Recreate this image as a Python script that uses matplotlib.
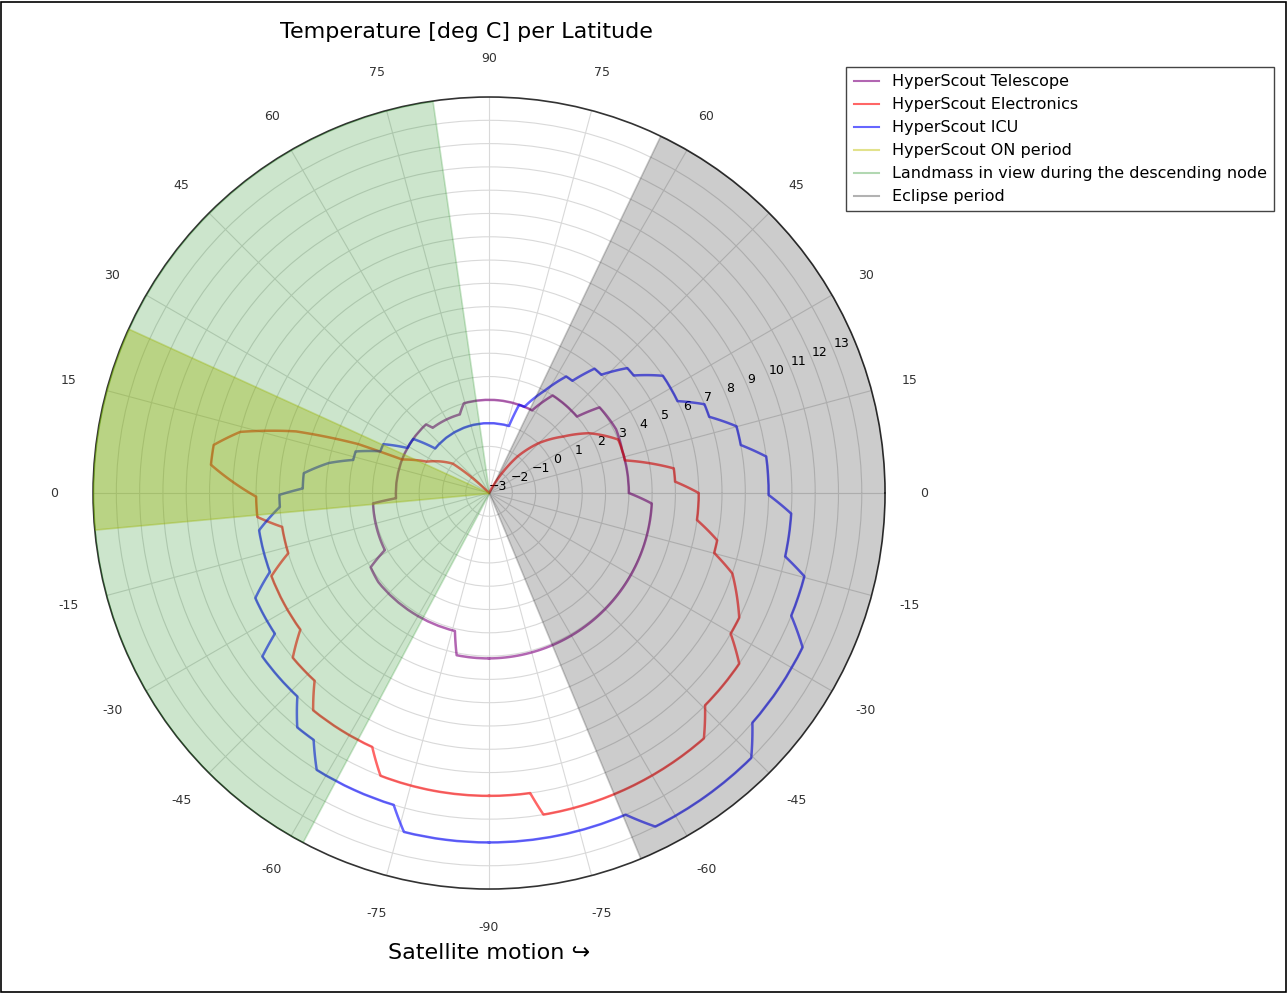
import numpy as np
import matplotlib
matplotlib.use('Agg')
import matplotlib.pyplot as plt
from matplotlib.lines import Line2D
from matplotlib.patches import Rectangle

# orbit position in degrees (0 = equator going north, 90 = north pole,
# 180 = equator going south, 270 = south pole) and temperature in deg C
telescope_angle = [-90, -3.7, 0, 17.7, 26.6, 37.8, 41.0, 56.9, 62.5, 105.7, 110.4, 130.8,
                   132.6, 183.2, 185.1, 208.7, 212.1, 218.8, 256.1, 258.7, 270]
telescope_temp = [4.1, 4.0, 3.0, 3.0, 3.1, 3.0, 2.0, 2.0, 1.0, 1.0, 0.6, 0.7,
                  1.0, 1.0, 2.0, 2.1, 3.0, 3.1, 3.1, 4.1, 4.1]

electronics_angle = [-90, -82.2, -80.4, -48.8, -44.5, -34.3, -30.2, -26.5, -18.3, -14.9,
                     -11.7, -7.4, 0, 3.5, 7.6, 13.5, 22.5, 30.9, 37.3, 45.3,
                     52, 57, 62, 135, 138, 141, 153.3, 158.9, 159.5, 162.3,
                     166.2, 170.1, 174.2, 180.9, 185.9, 189.3, 196.7, 200.9, 215.9, 220.0,
                     227.1, 231.0, 245.3, 249.0, 270]
electronics_temp = [10, 10, 11, 11, 10, 10, 9, 9, 8, 7,
                    7, 6, 6, 5, 5, 3, 3, 2, 1, 0,
                    -1, -2, -3, -3, -2, -1, 0, 1, 3, 5.7,
                    8, 9, 9, 7, 7, 6, 6, 7, 7, 8,
                    8, 9, 9, 10, 10]

icu_angle = [-90, -67, -63.5, -45.3, -41.1, -26.2, -22.1, -14.8, -12.1, -3.9,
             -0.4, 7.5, 10.8, 15.1, 19.1, 22.4, 26.0, 34.0, 39.1, 42.1,
             46.5, 49.7, 53.4, 56.5, 61.5, 67.7, 71.2, 73.5, 140.4, 144.5,
             151.1, 155.2, 159.0, 162.7, 166.3, 169.4, 173.9, 178.6, 180.5, 183.8,
             189.2, 199.8, 204.2, 213.3, 215.8, 226.7, 230.7, 234.6, 238.1, 253.0,
             255.9, 270]
icu_temp = [12, 12, 13, 13, 12, 12, 11, 11, 10, 10,
            9, 9, 8, 8, 7, 7, 6, 6, 5, 5,
            4, 4, 3, 3, 2, 1, 1, 0, 0, 1,
            1, 2, 2, 3, 3, 4, 5, 5, 6, 6,
            7, 7, 8, 8, 9, 9, 10, 10, 11, 11,
            12, 12]

# orbit segments (start, end) in degrees
on_span = (155.5, 185.3)
landmass_span = (98.2, 241.9)
eclipse_span = (-67.5, 64.4)

theta_ticks = np.arange(0, 360, 15)
lat_labels = [0, 15, 30, 45, 60, 75, 90, 75, 60, 45, 30, 15,
              0, -15, -30, -45, -60, -75, -90, -75, -60, -45, -30, -15]
r_ticks = np.arange(-3, 14)
r_min, r_max = -3, 14

fig = plt.figure(figsize=(12.87, 9.93), dpi=100)
ax = fig.add_axes([0.0723, 0.1047, 0.6154, 0.7976], projection='polar')

series = [
    (telescope_angle, telescope_temp, 'purple', 'HyperScout Telescope'),
    (electronics_angle, electronics_temp, 'red', 'HyperScout Electronics'),
    (icu_angle, icu_temp, 'blue', 'HyperScout ICU'),
]
for ang, temp, color, label in series:
    ln, = ax.plot(np.radians(ang), temp, color=color, alpha=0.6, lw=1.8, label=label)
    # let the polar transform draw constant temperature stretches as arcs
    ln.get_path()._interpolation_steps = 60

spans = [
    (on_span, 'y', 0.35, 'HyperScout ON period'),
    (landmass_span, 'green', 0.2, 'Landmass in view during the descending node'),
    (eclipse_span, 'black', 0.2, 'Eclipse period'),
]
for (a0, a1), color, alpha, label in spans:
    th = np.radians(np.linspace(a0, a1, 200))
    ax.fill_between(th, r_min, r_max, color=color, alpha=alpha, lw=1.2, zorder=3)

ax.set_ylim(r_min, r_max)
ax.set_rticks(r_ticks)
ax.set_thetagrids(theta_ticks, labels=[str(v) for v in lat_labels])
ax.tick_params(axis='x', pad=17.5, labelsize=9, labelcolor='#333333')
ax.tick_params(axis='y', labelsize=9)
ax.grid(color='#d9d9d9', linewidth=0.8)
ax.spines['polar'].set_color('#333333')
ax.spines['polar'].set_linewidth(1.2)

ax.set_title('Temperature [deg C] per Latitude', fontsize=16, x=0.471, y=1.0745, pad=0)
ax.text(0.5, -0.0884, 'Satellite motion \u21aa', fontsize=16, ha='center', va='baseline',
        transform=ax.transAxes)

handles = []
for ang, temp, color, label in series:
    handles.append(Line2D([], [], color=color, alpha=0.6, lw=1.5, label=label))
for span, color, alpha, label in spans:
    handles.append(Line2D([], [], color=color, alpha=min(1, alpha + 0.1), lw=1.5, label=label))
fig.legend(handles=handles, loc='upper right', bbox_to_anchor=(0.99, 0.9325), fontsize=11.5,
           fancybox=False, edgecolor='#444444', framealpha=1, labelspacing=0.5,
           borderpad=0.45, handlelength=1.6, borderaxespad=0)

fig.patches.append(Rectangle((0.0008, 0.001), 0.9984, 0.997, transform=fig.transFigure,
                             fill=False, edgecolor='black', linewidth=1.2))

fig.savefig('out.png', dpi=100)
